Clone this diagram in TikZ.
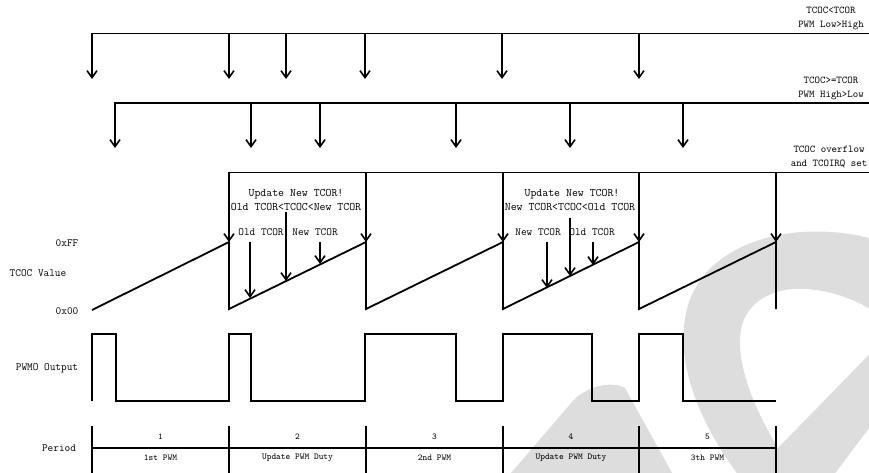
\documentclass[tikz,border=0pt]{standalone}
\usepackage{fontspec}
\usetikzlibrary{arrows.meta}
\definecolor{wm}{RGB}{221,221,221}
\begin{document}
\begin{tikzpicture}[x=1pt,y=-1pt,
  wave/.style={line width=1.8pt,line join=miter},
  thin wave/.style={line width=1.4pt},
  arr/.style={line width=1.8pt,-{Straight Barb[length=7pt,width=10pt,line width=1.6pt]}},
  lbl/.style={font=\ttfamily\fontsize{11}{14}\selectfont,inner sep=0pt,align=center},
  rlbl/.style={font=\ttfamily\fontsize{10.4}{14}\selectfont,inner sep=0pt,align=center},
  ulbl/.style={font=\ttfamily\fontsize{11.5}{13}\selectfont,inner sep=0pt,align=center},
  plbl/.style={font=\ttfamily\fontsize{9}{11}\selectfont,inner sep=0pt}]
\useasboundingbox (0,0) rectangle (869,473);
% watermark
\begin{scope}
\clip (0,0) rectangle (869,473);
\fill[wm] (505,480) -- (572,402) .. controls (585,387) and (610,380) .. (625,388) -- (676,480) -- cycle;
\fill[wm,even odd rule] (742,480) .. controls (700,425) and (672,360) .. (688,305) .. controls (705,250) and (770,228) .. (830,232) .. controls (865,234) and (885,242) .. (905,255) -- (905,380) -- (830,480) -- cycle
  (778,448) .. controls (755,410) and (733,360) .. (742,325) .. controls (750,297) and (780,287) .. (805,289) .. controls (840,291) and (870,305) .. (895,328) -- cycle;
\end{scope}
% event lines
\coordinate (L1) at (869,33.5);
\coordinate (L2) at (869,103);
\coordinate (L3) at (869,172.5);
\draw[arr] (L1) -- (92,33.5) -- (92,79);
\foreach \x in {229,286,365,502,639} \draw[arr] (\x,33.5) -- (\x,79);
\draw[arr,line width=1.5pt] (L2) -- (115,103) -- (115,148);
\foreach \x in {251,320,456,570,683} \draw[arr,line width=1.5pt] (\x,103) -- (\x,148);
\draw[arr] (L3) -- (229,172.5) -- (229,242);
\foreach \x in {366,503,639,776} \draw[arr] (\x,172.5) -- (\x,242);
% sawtooth
\draw[wave] (92,310) -- (229,242) -- (229,309) -- (366,242) -- (366,309) -- (503,242) -- (503,309) -- (639,242) -- (639,309) -- (776,242) -- (776,309);
% TCOR arrows
\draw[arr] (250,242) -- (250,298);
\draw[arr,line width=1.5pt] (286,212) -- (286,281);
\draw[arr] (320,242) -- (320,264);
\draw[arr] (547,242) -- (547,288);
\draw[arr,line width=1.5pt] (570,218) -- (570,276);
\draw[arr] (593,242) -- (593,265);
% PWM output
\draw[wave] (92,401) -- (92,334) -- (116,334) -- (116,401) -- (229,401) -- (229,334) -- (251,334) -- (251,401) -- (365,401) -- (365,334) -- (456,334) -- (456,401) -- (503,401) -- (503,334) -- (592,334) -- (592,401) -- (639,401) -- (639,334) -- (683,334) -- (683,401) -- (776,401);
% period axis
\draw[wave] (92,448) -- (776,448);
\foreach \x in {92,229,366,503,639,776} \draw[wave] (\x,426) -- (\x,475);
% labels
\node[rlbl] (t1) at (831,18) {TCOC<TCOR\\PWM Low>High};
\node[rlbl] (t2) at (831,88) {TCOC>=TCOR\\PWM High>Low};
\node[rlbl] (t3) at (829,157) {TCOC overflow\\and TCOIRQ set};
\node[lbl] (ff) at (67,243) {0xFF};
\node[lbl] (tv) at (38,273) {TCOC Value};
\node[lbl] (zz) at (67,311) {0x00};
\node[lbl] (po) at (47,368) {PWMO Output};
\node[lbl] (pe) at (59,448) {Period};
\node[ulbl] (u2a) at (296,194) {Update New TCOR!};
\node[ulbl] (u2b) at (296,207) {Old TCOR<TCOC<New TCOR};
\node[lbl] (o2) at (261,232) {Old TCOR};
\node[lbl] (n2) at (315,232) {New TCOR};
\node[ulbl] (u4a) at (572,194) {Update New TCOR!};
\node[ulbl] (u4b) at (570,207) {New TCOR<TCOC<Old TCOR};
\node[lbl] (n4) at (538,232) {New TCOR};
\node[lbl] (o4) at (592,232) {Old TCOR};
\foreach \c/\n/\t [count=\i] in {160.5/1/1st PWM,297.5/2/Update PWM Duty,434.5/3/2nd PWM,571/4/Update PWM Duty,707.5/5/3th PWM}{
  \node[plbl] (pn\i) at (\c,437) {\n};
  \node[plbl] (pt\i) at (\c,458) {\t};
}
\end{tikzpicture}
\end{document}
